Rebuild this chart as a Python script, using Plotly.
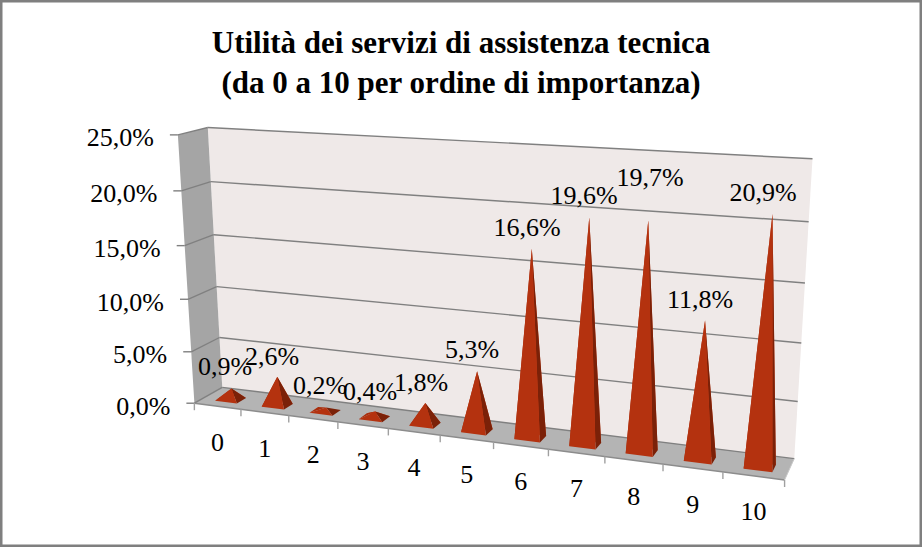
import numpy as np
import plotly.graph_objects as go

# ---------- data ----------
categories = ["0", "1", "2", "3", "4", "5", "6", "7", "8", "9", "10"]
values = [0.9, 2.6, 0.2, 0.4, 1.8, 5.3, 16.6, 19.6, 19.7, 11.8, 20.9]
value_ticks = [0, 5, 10, 15, 20, 25]
title_text = "<b>Utilità dei servizi di assistenza tecnica<br>(da 0 a 10 per ordine di importanza)</b>"


def pct(v):
    return f"{v:.1f}%".replace(".", ",")


# ---------- camera calibration: (category, value, depth) -> canvas ----------
n_cat = len(categories)
CAL = [
    (0, 0, 0, 222, 388), (0, 5, 0, 219, 338), (0, 10, 0, 217, 287), (0, 15, 0, 214, 234),
    (0, 20, 0, 211, 181), (0, 25, 0, 208, 127), (11, 25, 0, 812, 159), (11, 20, 0, 809, 222),
    (11, 15, 0, 805, 283), (11, 10, 0, 801, 343), (11, 5, 0, 798, 402), (11, 0, 0, 794, 458),
    (0, 25, 1, 178, 135), (0, 20, 1, 181, 191), (0, 15, 1, 184, 246), (0, 10, 1, 188, 300),
    (0, 5, 1, 192, 352), (0, 0, 1, 195, 403), (1, 0, 1, 241, 409), (2, 0, 1, 288, 415),
    (3, 0, 1, 338, 422), (4, 0, 1, 388, 428), (5, 0, 1, 440, 435), (6, 0, 1, 493, 442),
    (7, 0, 1, 548, 449), (8, 0, 1, 606, 457), (9, 0, 1, 663, 464), (10, 0, 1, 723, 472),
    (11, 0, 1, 785, 480),
]
A, b = [], []
for c, v, d, px, py in CAL:
    A.append([c, v, d, 1, 0, 0, 0, 0, -px * c, -px * v, -px * d])
    b.append(px)
    A.append([0, 0, 0, 0, c, v, d, 1, -py * c, -py * v, -py * d])
    b.append(py)
sol = np.linalg.lstsq(np.array(A, float), np.array(b, float), rcond=None)[0]
P = np.append(sol, 1.0).reshape(3, 4)


def proj(c, v, d):
    h = P @ np.array([c, v, d, 1.0])
    return h[0] / h[2], h[1] / h[2]


def poly(points):
    xy = [proj(*p) for p in points]
    return [q[0] for q in xy] + [xy[0][0]], [q[1] for q in xy] + [xy[0][1]]


fig = go.Figure()


def fill(points, color):
    x, y = poly(points)
    fig.add_trace(go.Scatter(x=x, y=y, mode="lines", fill="toself", fillcolor=color,
                             line=dict(width=0), hoverinfo="skip", showlegend=False))


def stroke(a, b_, color="#808080", width=1.4, dy=0, dx=0):
    pa, pb = proj(*a), proj(*b_)
    fig.add_trace(go.Scatter(x=[pa[0], pb[0] + dx], y=[pa[1], pb[1] + dy], mode="lines",
                             line=dict(color=color, width=width), hoverinfo="skip", showlegend=False))


# walls and floor
top = value_ticks[-1]
fill([(0, 0, 0), (n_cat, 0, 0), (n_cat, top, 0), (0, top, 0)], "#EFE9E8")
fill([(0, 0, 1), (0, 0, 0), (0, top, 0), (0, top, 1)], "#A5A5A5")
fill([(0, 0, 1), (n_cat, 0, 1), (n_cat, 0, 0), (0, 0, 0)], "#B4B4B4")

# grid + ticks
for t in value_ticks:
    stroke((0, t, 1), (0, t, 0))
    stroke((0, t, 0), (n_cat, t, 0))
    stroke((0, t, 1), (0, t, 1), dx=-8)
stroke((0, 0, 1), (n_cat, 0, 1), color="#8c8c8c")
stroke((n_cat, 0, 1), (n_cat, 0, 0), color="#c8c8c8", width=1)
for i in range(n_cat + 1):
    stroke((i, 0, 1), (i, 0, 1), dy=7, color="#A0A0A0")

# pyramids
HALF_W, HALF_D, MID_D, CENTER, APEX_BACK, APEX_LEFT = 0.235, 0.17, 0.57, 0.525, 0.1, 0.03
FACE_COLORS = {"back": "#C8441E", "left": "#A92E0D", "right": "#7B2108", "front": "#B4320F"}
faces = {k: ([], []) for k in FACE_COLORS}
for i, val in enumerate(values):
    c = i + CENTER
    bl = (c - HALF_W, 0, MID_D + HALF_D)
    br = (c + HALF_W, 0, MID_D + HALF_D)
    tr = (c + HALF_W, 0, MID_D - HALF_D)
    tl = (c - HALF_W, 0, MID_D - HALF_D)
    apex = (c - APEX_LEFT, val, MID_D - APEX_BACK)
    for key, pts in (("back", [tl, tr, apex]), ("left", [bl, tl, apex]),
                     ("right", [br, tr, apex]), ("front", [bl, br, apex])):
        x, y = poly(pts)
        faces[key][0].extend(x + [None])
        faces[key][1].extend(y + [None])
for key in ("back", "left", "right", "front"):
    fig.add_trace(go.Scatter(x=faces[key][0], y=faces[key][1], mode="lines", fill="toself",
                             fillcolor=FACE_COLORS[key], line=dict(width=0),
                             hoverinfo="skip", showlegend=False))

FONT = "Liberation Serif"
TEXT = dict(family=FONT, size=26, color="black")
# value axis labels
vt = [proj(0, t, 1) for t in value_ticks]
fig.add_trace(go.Scatter(x=[q[0] - 24 for q in vt], y=[q[1] + 5 for q in vt], mode="text",
                         text=[pct(t) for t in value_ticks], textposition="middle left",
                         textfont=TEXT, hoverinfo="skip", showlegend=False))
# category labels
ct = [proj(i + 0.5, 0, 1) for i in range(n_cat)]
fig.add_trace(go.Scatter(x=[q[0] for q in ct], y=[q[1] + 38 for q in ct], mode="text",
                         text=categories, textposition="middle center",
                         textfont=TEXT, hoverinfo="skip", showlegend=False))
# data labels (placement as in the reference)
LABEL_X = [225, 272, 320, 370, 421, 472, 527, 584, 650, 700, 763]
LABEL_Y = [368, 358, 387, 393, 384, 351, 229, 197, 179, 301, 194]
fig.add_trace(go.Scatter(x=LABEL_X, y=LABEL_Y, mode="text", text=[pct(v) for v in values],
                         customdata=values, textposition="middle center",
                         textfont=TEXT, hoverinfo="skip", showlegend=False))

fig.update_layout(
    width=922, height=547, margin=dict(l=0, r=0, t=0, b=0),
    paper_bgcolor="white", plot_bgcolor="white", showlegend=False,
    title=dict(text=title_text, x=0.5, xanchor="center", y=0.904, yanchor="middle",
               font=dict(family=FONT, size=31, color="black")),
    xaxis=dict(range=[0, 922], visible=False, fixedrange=True),
    yaxis=dict(range=[547, 0], visible=False, fixedrange=True),
    shapes=[dict(type="rect", xref="paper", yref="paper", x0=0, x1=1, y0=0, y1=1,
                 line=dict(color="#7F7F7F", width=5), layer="above")],
)
fig.write_html("out.html", config=dict(displayModeBar=False),
               post_script="document.body.style.margin='0';")
